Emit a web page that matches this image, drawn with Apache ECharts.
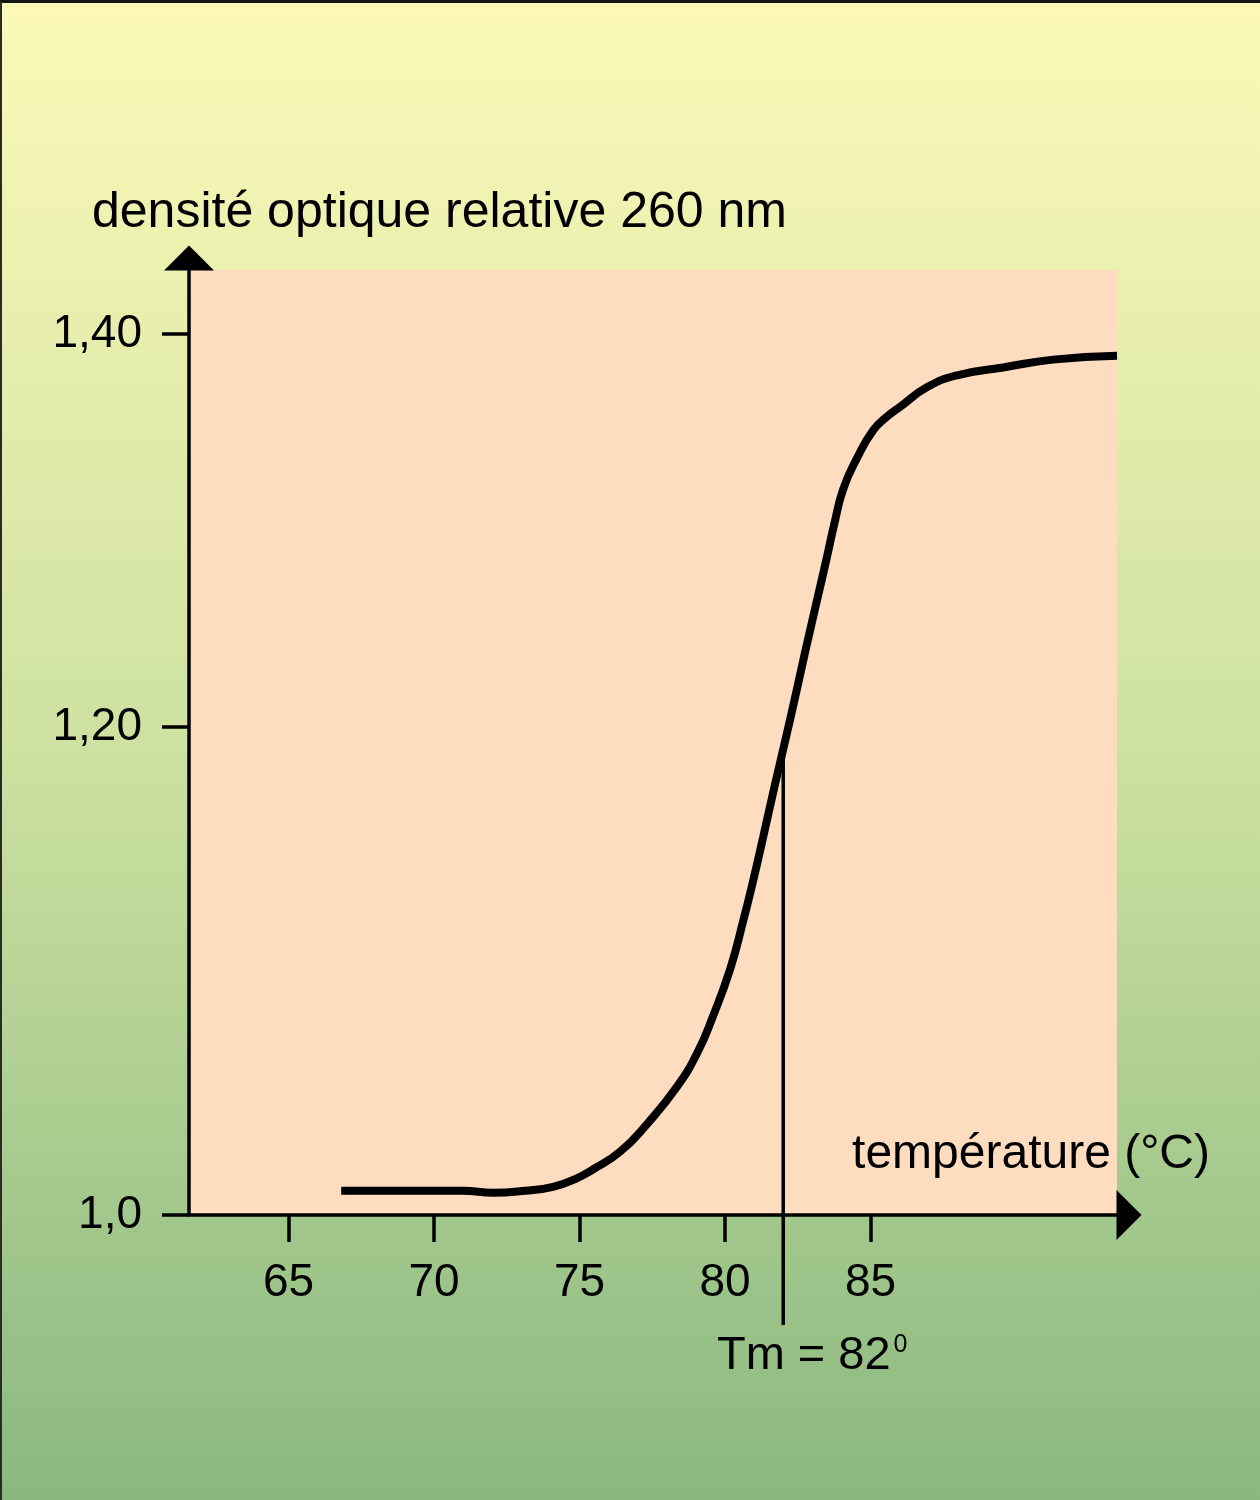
<!DOCTYPE html>
<html>
<head>
<meta charset="utf-8">
<title>densité optique relative 260 nm</title>
<script src="https://cdn.jsdelivr.net/npm/echarts@6/dist/echarts.min.js"></script>
<style>
    html, body { margin: 0; padding: 0; }
    #main { width: 1260px; height: 1500px; }
    #frame {
        position: absolute; left: 0; top: 0;
        width: 1260px; height: 1500px;
        box-sizing: border-box;
        border-top: 3px solid #151515;
        border-left: 2px solid #2a2a2a;
        pointer-events: none;
    }
</style>
</head>
<body>
<div id="main"></div>
<div id="frame"></div>
<script>
// courbe de fusion
var temperature = [66.81, 68.84, 71.00, 72.03, 73.13, 74.09, 74.85, 75.47, 76.40, 77.32,
    78.35, 79.04, 79.59, 80.18, 80.62, 80.97, 81.31, 81.72, 82.24, 82.75,
    83.20, 83.51, 83.75, 84.06, 84.54, 85.09, 85.57, 86.02, 86.95, 87.98,
    89.56, 91.27, 93.47];
var densite = [0.964, 0.964, 0.964, 0.963, 0.964, 0.966, 0.970, 0.975, 0.984, 0.998,
    1.017, 1.034, 1.053, 1.077, 1.101, 1.122, 1.144, 1.171, 1.204, 1.238,
    1.267, 1.287, 1.303, 1.321, 1.337, 1.351, 1.358, 1.363, 1.373, 1.379,
    1.383, 1.387, 1.389];

var xTicks = [65, 70, 75, 80, 85];
// the "1,0" label sits on the axis origin in the drawing
var yTickValues = [0.9517, 1.20, 1.40];
var yTickLabels = ["1,0", "1,20", "1,40"];

var xMin = 61.58, xMax = 93.47;
var yMin = 0.9517, yMax = 1.4326;

var tm = 82;
var tmBottom = 0.8957; // the Tm line runs below the x axis

var font = '"Liberation Sans", Arial, Helvetica, sans-serif';

var curve = [];
for (var i = 0; i < temperature.length; i++) {
    curve.push([temperature[i], densite[i]]);
}

// value of the curve at Tm
var tmTop = densite[0];
for (var i = 0; i < temperature.length - 1; i++) {
    if (temperature[i] <= tm && tm <= temperature[i + 1]) {
        var t = (tm - temperature[i]) / (temperature[i + 1] - temperature[i]);
        tmTop = densite[i] + t * (densite[i + 1] - densite[i]);
    }
}

var myChart = echarts.init(document.getElementById("main"), null, { renderer: "canvas" });

myChart.setOption({
    animation: false,
    backgroundColor: {
        type: "linear",
        x: 0, y: 0, x2: 0, y2: 1,
        colorStops: [
            { offset: 0, color: "#fcf9b8" },
            { offset: 0.5, color: "#cde1a0" },
            { offset: 1, color: "#89b880" }
        ]
    },
    textStyle: { fontFamily: font },
    title: {
        text: "densité optique relative 260 nm",
        left: 87,
        top: 183,
        textStyle: {
            color: "#000",
            fontSize: 50,
            fontWeight: "normal",
            fontFamily: font
        }
    },
    grid: {
        left: 189,
        right: 143,
        top: 270,
        bottom: 285,
        show: true,
        backgroundColor: "#fddcbf",
        borderWidth: 0
    },
    xAxis: {
        type: "value",
        min: xMin,
        max: xMax,
        name: "température (°C)",
        nameLocation: "end",
        nameGap: 93,
        nameTextStyle: {
            color: "#000",
            fontSize: 48,
            align: "right",
            verticalAlign: "bottom",
            padding: [0, 0, 36, 0]
        },
        axisLine: {
            onZero: false,
            symbol: ["none", "triangle"],
            symbolSize: [50, 25],
            symbolOffset: [0, 12],
            lineStyle: { color: "#000", width: 3.5 }
        },
        axisTick: {
            customValues: xTicks,
            length: 27,
            lineStyle: { color: "#000", width: 3.5 }
        },
        axisLabel: {
            customValues: xTicks,
            margin: 45,
            color: "#000",
            fontSize: 46
        },
        splitLine: { show: false }
    },
    yAxis: {
        type: "value",
        min: yMin,
        max: yMax,
        axisLine: {
            show: true,
            onZero: false,
            symbol: ["none", "triangle"],
            symbolSize: [50, 25],
            symbolOffset: [0, 12],
            lineStyle: { color: "#000", width: 3.5 }
        },
        axisTick: {
            show: true,
            customValues: yTickValues,
            length: 27,
            lineStyle: { color: "#000", width: 3.5 }
        },
        axisLabel: {
            customValues: yTickValues,
            margin: 47,
            color: "#000",
            fontSize: 46,
            formatter: function (value) {
                for (var i = 0; i < yTickValues.length; i++) {
                    if (Math.abs(yTickValues[i] - value) < 1e-6) return yTickLabels[i];
                }
                return "";
            }
        },
        splitLine: { show: false }
    },
    series: [
        {
            name: "densité",
            type: "line",
            data: curve,
            smooth: 0.5,
            showSymbol: false,
            lineStyle: { color: "#000", width: 8, cap: "butt" },
            z: 3
        },
        {
            name: "Tm",
            type: "line",
            clip: false,
            showSymbol: true,
            symbolSize: 0,
            data: [
                {
                    value: [tm, tmBottom],
                    label: {
                        show: true,
                        position: "bottom",
                        distance: 8,
                        offset: [29, 0],
                        color: "#000",
                        fontSize: 47,
                        formatter: "Tm = " + tm + "{s|0}",
                        rich: {
                            s: { fontSize: 25, verticalAlign: "top", padding: [0, 0, 0, 3] }
                        }
                    }
                },
                { value: [tm, tmTop] }
            ],
            lineStyle: { color: "#000", width: 3.5 },
            z: 2
        }
    ]
});
</script>
</body>
</html>
